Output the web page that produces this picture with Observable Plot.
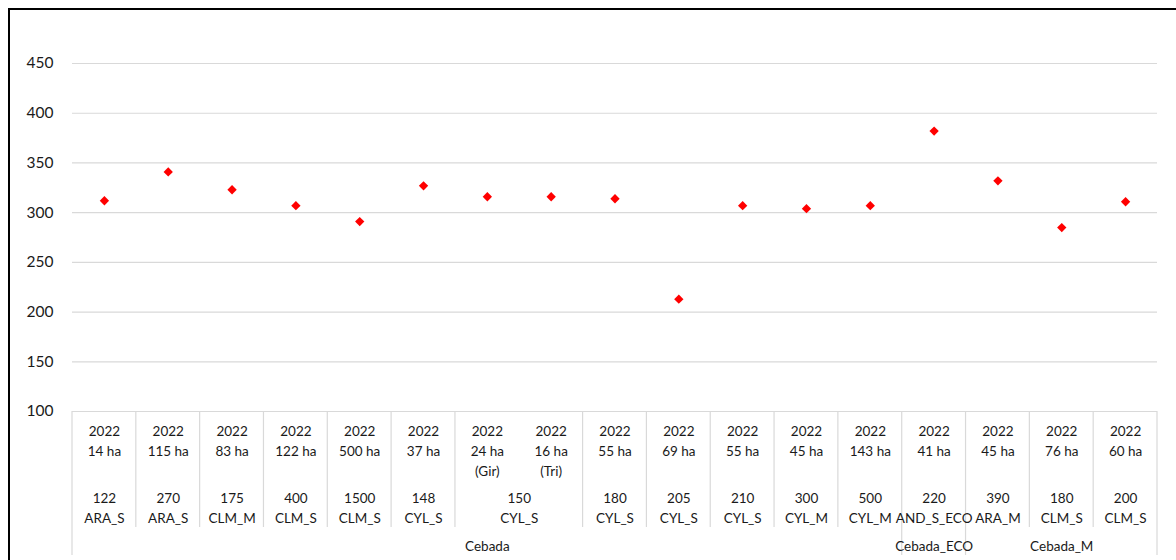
<!DOCTYPE html>
<html>
<head>
<meta charset="utf-8">
<script src="https://cdn.jsdelivr.net/npm/d3@7"></script>
<script src="https://cdn.jsdelivr.net/npm/@observablehq/plot@0.6"></script>
<style>
  html, body { margin: 0; padding: 0; background: #fff; }
  #wrap { position: relative; width: 1176px; height: 560px; overflow: hidden; }
  #frame { position: absolute; left: 8px; top: 8px; width: 1200px; height: 600px;
           border-left: 2.5px solid #000; border-top: 2.5px solid #000; pointer-events: none; }
  svg { font-family: Lato, "Open Sans", sans-serif; }
</style>
</head>
<body>
<div id="wrap"><div id="chart"></div><div id="frame"></div></div>
<script>
// ---- data ----
const years = ["2022","2022","2022","2022","2022","2022","2022","2022","2022","2022","2022","2022","2022","2022","2022","2022","2022"];
const areas = ["14 ha","115 ha","83 ha","122 ha","500 ha","37 ha","24 ha\n(Gir)","16 ha\n(Tri)","55 ha","69 ha","55 ha","45 ha","143 ha","41 ha","45 ha","76 ha","60 ha"];
const values = [312, 341, 323, 307, 291, 327, 316, 316, 314, 213, 307, 304, 307, 382, 332, 285, 311];
// second level of the category axis
const level2Labels = ["122\nARA_S","270\nARA_S","175\nCLM_M","400\nCLM_S","1500\nCLM_S","148\nCYL_S","150\nCYL_S","180\nCYL_S","205\nCYL_S","210\nCYL_S","300\nCYL_M","500\nCYL_M","220\nAND_S_ECO","390\nARA_M","180\nCLM_S","200\nCLM_S"];
const level2Spans  = [1,1,1,1,1,1,2,1,1,1,1,1,1,1,1,1];
// third level of the category axis
const level3Labels = ["Cebada","Cebada_ECO","Cebada_M"];
const level3Spans  = [13,1,3];
const yTicks = [100,150,200,250,300,350,400,450];

// ---- tables ----
const points = values.map((v, i) => ({pos: i + 0.5, value: v, label: years[i] + "\n" + areas[i]}));
function groups(labels, spans) {
  let start = 0;
  return labels.map((l, k) => {
    const g = {start, end: start + spans[k], mid: start + spans[k] / 2, label: l};
    start += spans[k];
    return g;
  });
}
const g2 = groups(level2Labels, level2Spans);
const g3 = groups(level3Labels, level3Spans);

const textColor = "#1a1a1a";
const gridColor = "#d9d9d9";

const chart = Plot.plot({
  width: 1176,
  height: 560,
  marginLeft: 72,
  marginRight: 19,
  marginTop: 13.3,
  marginBottom: 149,
  x: {type: "linear", domain: [0, values.length], axis: null},
  y: {domain: [100, 500], axis: null},
  marks: [
    Plot.gridY(yTicks, {stroke: gridColor, strokeOpacity: 1, strokeWidth: 1.2}),
    Plot.axisY(yTicks, {tickSize: 0, tickPadding: 19, fontSize: 15.5, fill: textColor, label: null, tickFormat: d => String(d)}),
    Plot.text(points, {x: "pos", text: "label", frameAnchor: "bottom", lineAnchor: "top", dy: 11, lineHeight: 1.46, fontSize: 13.5, fill: textColor}),
    Plot.text(g2, {x: "mid", text: "label", frameAnchor: "bottom", lineAnchor: "top", dy: 78, lineHeight: 1.46, fontSize: 13.5, fill: textColor}),
    Plot.text(g3, {x: "mid", text: "label", frameAnchor: "bottom", lineAnchor: "top", dy: 130, fontSize: 13.5, fill: textColor}),
    Plot.dot(points, {x: "pos", y: "value", symbol: "diamond2", r: 4.2, fill: "#ff0000", stroke: "none"})
  ]
});
document.getElementById("chart").appendChild(chart);

// category separators drawn with the plot's own scales
const sx = chart.scale("x"), sy = chart.scale("y");
const base = sy.apply(100);
const svg = d3.select(chart);
const sepLayer = svg.insert("g", ":first-child").attr("stroke", gridColor).attr("stroke-width", 1.2);
const level3Bounds = new Set([0, ...g3.map(g => g.end)]);
const level2Bounds = [0, ...g2.map(g => g.end)];
for (const b of level2Bounds) {
  const px = sx.apply(b);
  sepLayer.append("line").attr("x1", px).attr("x2", px).attr("y1", base)
    .attr("y2", base + (level3Bounds.has(b) ? 144 : 116));
}
</script>
</body>
</html>
